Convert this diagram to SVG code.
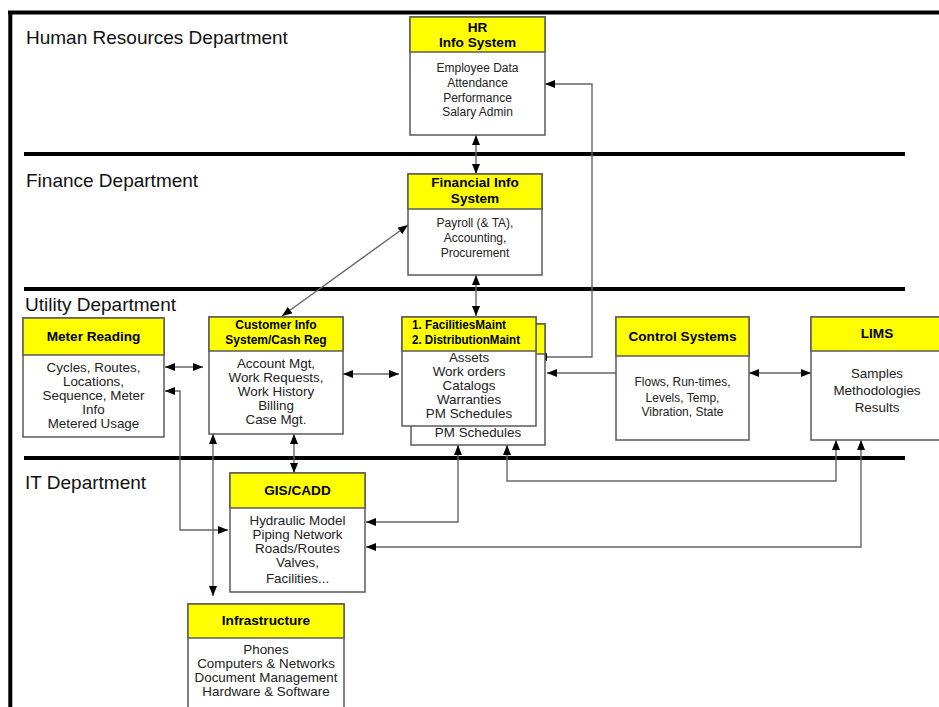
<svg xmlns="http://www.w3.org/2000/svg" width="939" height="707" viewBox="0 0 939 707">
<defs>
<marker id="ah" viewBox="0 0 10 8" refX="10" refY="4" markerWidth="10" markerHeight="8" markerUnits="userSpaceOnUse" orient="auto-start-reverse"><path d="M0,0 L10,4 L0,8 z" fill="#000"/></marker>
</defs>
<style>
.dept{font-family:"Liberation Sans",Arial,sans-serif;font-size:19px;fill:#111}
.sep{stroke:#000;stroke-width:4;fill:none}
.box{fill:#fff;stroke:#5a5a5a;stroke-width:1.5}
.hdr{fill:#ffff00;stroke:#5a5a5a;stroke-width:1.5}
.t{font-family:"Liberation Sans",Arial,sans-serif;font-weight:bold;font-size:13.6px;fill:#000;text-anchor:middle}
.b{font-family:"Liberation Sans",Arial,sans-serif;font-size:13.4px;fill:#222;text-anchor:middle}
.s{font-family:"Liberation Sans",Arial,sans-serif;font-size:12px;fill:#222;text-anchor:middle}
.c{fill:none;stroke:#666;stroke-width:1.4}
.cb{marker-start:url(#ah);marker-end:url(#ah)}
.ce{marker-end:url(#ah)}
</style>
<rect width="939" height="707" fill="#fff"/>
<g id="frame">
<path class="sep" d="M8,12.5 H939"/>
<path class="sep" d="M10.3,11 V707"/>
<path class="sep" d="M24,154 H905"/>
<path class="sep" d="M24,289 H905"/>
<path class="sep" d="M24,458 H905"/>
<text class="dept" x="26" y="44">Human Resources Department</text>
<text class="dept" x="26" y="187">Finance Department</text>
<text class="dept" x="25" y="311">Utility Department</text>
<text class="dept" x="25" y="489">IT Department</text>
</g>
<g id="connectors">
<path class="c cb" d="M476,135 V174"/>
<path class="c cb" d="M545,84 H592 V357 H537"/>
<path class="c cb" d="M408,225 L282,316"/>
<path class="c cb" d="M476,275 V316"/>
<path class="c cb" d="M165,367 H203"/>
<path class="c cb" d="M165,391 H180 V530 H228"/>
<path class="c cb" d="M213,434 V596"/>
<path class="c cb" d="M294,434 V473"/>
<path class="c cb" d="M343,374 H399"/>
<path class="c ce" d="M616,373 H547"/>
<path class="c cb" d="M749,373 H811"/>
<path class="c cb" d="M458,445 V522 H366"/>
<path class="c cb" d="M507,445 V481 H836 V440"/>
<path class="c cb" d="M861,440 V547 H366"/>
</g>
<g id="hr">
<rect class="box" x="410" y="17" width="135" height="118"/>
<rect class="hdr" x="410" y="17" width="135" height="35"/>
<text class="t" x="477.5" y="32">HR</text>
<text class="t" x="477.5" y="47">Info System</text>
<text class="s" x="477.5" y="72">Employee Data</text>
<text class="s" x="477.5" y="87">Attendance</text>
<text class="s" x="477.5" y="102">Performance</text>
<text class="s" x="477.5" y="116">Salary Admin</text>
</g>
<g id="finance">
<rect class="box" x="408" y="174" width="134" height="101"/>
<rect class="hdr" x="408" y="174" width="134" height="35"/>
<text class="t" x="475" y="187">Financial Info</text>
<text class="t" x="475" y="203">System</text>
<text class="s" x="475" y="227">Payroll (&amp; TA),</text>
<text class="s" x="475" y="242">Accounting,</text>
<text class="s" x="475" y="257">Procurement</text>
</g>
<g id="meter">
<rect class="box" x="23" y="318" width="141" height="119"/>
<rect class="hdr" x="23" y="318" width="141" height="37"/>
<text class="t" x="93.5" y="341">Meter Reading</text>
<text class="b" x="93.5" y="372">Cycles, Routes,</text>
<text class="b" x="93.5" y="386">Locations,</text>
<text class="b" x="93.5" y="400">Sequence, Meter</text>
<text class="b" x="93.5" y="414">Info</text>
<text class="b" x="93.5" y="428">Metered Usage</text>
</g>
<g id="customer">
<rect class="box" x="209" y="317" width="134" height="117"/>
<rect class="hdr" x="209" y="317" width="134" height="34"/>
<text class="t" x="276" y="329" style="font-size:12px">Customer Info</text>
<text class="t" x="276" y="344" style="font-size:12px">System/Cash Reg</text>
<text class="b" x="276" y="368">Account Mgt,</text>
<text class="b" x="276" y="382">Work Requests,</text>
<text class="b" x="276" y="396">Work History</text>
<text class="b" x="276" y="410">Billing</text>
<text class="b" x="276" y="424">Case Mgt.</text>
</g>
<g id="maint">
<rect class="box" x="411" y="324" width="134" height="121"/>
<rect class="hdr" x="411" y="324" width="134" height="30"/>
<text class="b" x="478" y="437">PM Schedules</text>
<rect class="box" x="402" y="317" width="134" height="109"/>
<rect class="hdr" x="402" y="317" width="134" height="34"/>
<text class="t" x="412" y="329" style="font-size:12px;text-anchor:start" textLength="94" lengthAdjust="spacingAndGlyphs">1. FacilitiesMaint</text>
<text class="t" x="412" y="344" style="font-size:12px;text-anchor:start" textLength="108" lengthAdjust="spacingAndGlyphs">2. DistributionMaint</text>
<text class="b" x="469" y="362">Assets</text>
<text class="b" x="469" y="376">Work orders</text>
<text class="b" x="469" y="390">Catalogs</text>
<text class="b" x="469" y="404">Warranties</text>
<text class="b" x="469" y="418">PM Schedules</text>
</g>
<g id="control">
<rect class="box" x="616" y="317" width="133" height="123"/>
<rect class="hdr" x="616" y="317" width="133" height="39"/>
<text class="t" x="682.5" y="341">Control Systems</text>
<text class="s" x="682.5" y="386">Flows, Run-times,</text>
<text class="s" x="682.5" y="402">Levels, Temp,</text>
<text class="s" x="682.5" y="416">Vibration, State</text>
</g>
<g id="lims">
<rect class="box" x="811" y="317" width="132" height="123"/>
<rect class="hdr" x="811" y="317" width="132" height="34"/>
<text class="t" x="877" y="338">LIMS</text>
<text class="b" x="877" y="378">Samples</text>
<text class="b" x="877" y="395">Methodologies</text>
<text class="b" x="877" y="412">Results</text>
</g>
<g id="gis">
<rect class="box" x="230" y="473" width="135" height="119"/>
<rect class="hdr" x="230" y="473" width="135" height="35"/>
<text class="t" x="297.5" y="495">GIS/CADD</text>
<text class="b" x="297.5" y="525">Hydraulic Model</text>
<text class="b" x="297.5" y="539">Piping Network</text>
<text class="b" x="297.5" y="553">Roads/Routes</text>
<text class="b" x="297.5" y="567">Valves,</text>
<text class="b" x="297.5" y="583">Facilities...</text>
</g>
<g id="infra">
<rect class="box" x="188" y="604" width="156" height="120"/>
<rect class="hdr" x="188" y="604" width="156" height="34"/>
<text class="t" x="266" y="625">Infrastructure</text>
<text class="b" x="266" y="654">Phones</text>
<text class="b" x="266" y="668">Computers &amp; Networks</text>
<text class="b" x="266" y="682">Document Management</text>
<text class="b" x="266" y="696">Hardware &amp; Software</text>
</g>
</svg>
